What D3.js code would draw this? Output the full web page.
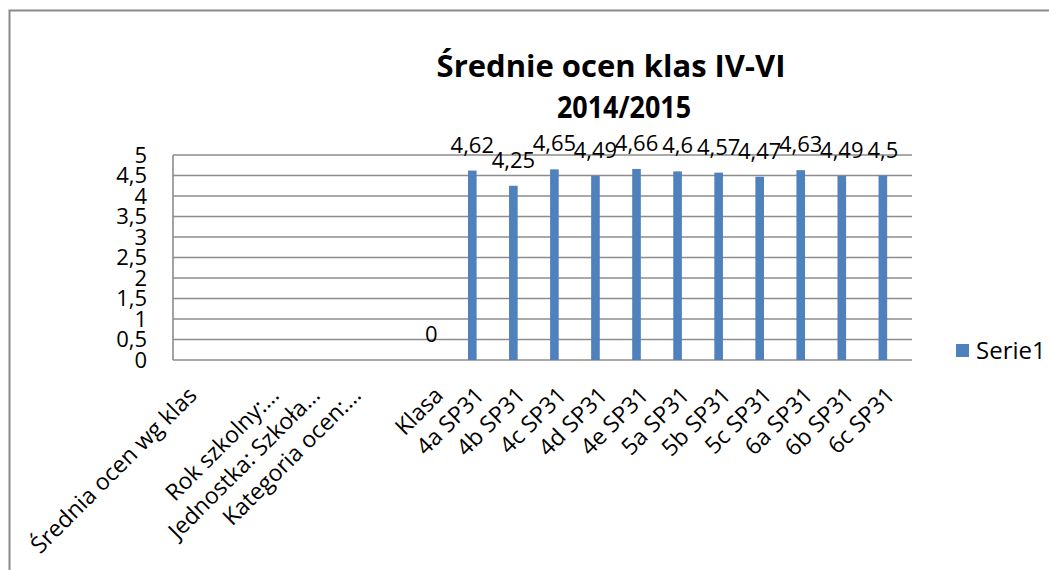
<!DOCTYPE html>
<html>
<head>
<meta charset="utf-8">
<script src="https://cdn.jsdelivr.net/npm/d3@7"></script>
<style>
  html, body { margin: 0; padding: 0; background: #fff; }
  svg { display: block; }
  text { font-family: "Open Sans", "Noto Sans", sans-serif; fill: #000; }
</style>
</head>
<body>
<svg id="chart" width="1049" height="570"></svg>
<script>
// ---- data ----
const titleLines = ["Średnie ocen klas IV-VI", "2014/2015"];
const categories = [
  "Średnia ocen wg klas", "", "Rok szkolny:…", "Jednostka: Szkoła…", "Kategoria ocen:…", "",
  "Klasa", "4a SP31", "4b SP31", "4c SP31", "4d SP31", "4e SP31",
  "5a SP31", "5b SP31", "5c SP31", "6a SP31", "6b SP31", "6c SP31"
];
const values = [
  null, null, null, null, null, null,
  0, 4.62, 4.25, 4.65, 4.49, 4.66,
  4.6, 4.57, 4.47, 4.63, 4.49, 4.5
];
const yTicks = [0, 0.5, 1, 1.5, 2, 2.5, 3, 3.5, 4, 4.5, 5];
const seriesName = "Serie1";

// ---- layout ----
const svg = d3.select("#chart");
const plot = { left: 173, right: 912, top: 155, bottom: 360 };
const barColor = "#4f81bd";
const gridColor = "#8c8c8c";
const fmt = v => String(v).replace(".", ",");

// outer frame (only top and left edges visible)
svg.append("path")
  .attr("d", "M9.5,570 V10.5 H1049")
  .attr("fill", "none")
  .attr("stroke", "#8a8a8a")
  .attr("stroke-width", 2);

const x = d3.scaleBand()
  .domain(d3.range(categories.length))
  .range([plot.left, plot.right])
  .paddingInner(0).paddingOuter(0);

const y = d3.scaleLinear().domain([0, 5]).range([plot.bottom, plot.top]);

// gridlines
svg.append("g").selectAll("line")
  .data(yTicks)
  .join("line")
  .attr("x1", plot.left).attr("x2", plot.right)
  .attr("y1", d => y(d)).attr("y2", d => y(d))
  .attr("stroke", gridColor).attr("stroke-width", 1.6);

// y axis line
svg.append("line")
  .attr("x1", plot.left).attr("x2", plot.left)
  .attr("y1", y(5)).attr("y2", y(0))
  .attr("stroke", gridColor).attr("stroke-width", 1.6);

// y tick labels
const yAxis = d3.axisLeft(y).tickValues(yTicks).tickFormat(fmt).tickSize(0).tickPadding(0);
const gy = svg.append("g")
  .attr("transform", `translate(${plot.left - 26},0)`)
  .call(yAxis);
gy.select(".domain").remove();
gy.selectAll("text")
  .attr("font-size", 22)
  .attr("font-family", "Open Sans")
  .attr("fill", "#000");

// bars (series is drawn in the first slot of its category band)
const step = x.step();
const barW = step * 0.21;
const barCenter = i => x(i) + step / 2 - step * 0.21;

const data = values.map((v, i) => ({ i, v })).filter(d => d.v !== null);

svg.append("g").selectAll("rect")
  .data(data)
  .join("rect")
  .attr("x", d => barCenter(d.i) - barW / 2)
  .attr("width", barW)
  .attr("y", d => y(d.v))
  .attr("height", d => y(0) - y(d.v))
  .attr("fill", barColor);

// data labels
svg.append("g").selectAll("text")
  .data(data)
  .join("text")
  .attr("x", d => barCenter(d.i))
  .attr("y", d => y(d.v) - 18)
  .attr("text-anchor", "middle")
  .attr("font-size", 22)
  .text(d => fmt(d.v));

// x category labels, rotated
svg.append("g").selectAll("text")
  .data(categories.map((c, i) => ({ c, i })))
  .join("text")
  .attr("transform", d => `translate(${x(d.i) + step / 2 - 1},${plot.bottom + 31}) rotate(-45)`)
  .attr("text-anchor", "end")
  .attr("dy", "0.35em")
  .attr("font-size", 23)
  .text(d => d.c);

// title
svg.append("text")
  .attr("x", 611).attr("y", 77)
  .attr("text-anchor", "middle")
  .attr("font-size", 31).attr("font-weight", "bold")
  .text(titleLines[0]);
svg.append("text")
  .attr("x", 624).attr("y", 118)
  .attr("text-anchor", "middle")
  .attr("font-size", 31).attr("font-weight", "bold")
  .attr("textLength", 134).attr("lengthAdjust", "spacingAndGlyphs")
  .text(titleLines[1]);

// legend
const lg = svg.append("g").attr("transform", "translate(956,344)");
lg.append("rect").attr("width", 13).attr("height", 13).attr("fill", barColor);
lg.append("text").attr("x", 20).attr("y", 6.5).attr("dy", "0.35em")
  .attr("font-size", 24).text(seriesName);
</script>
</body>
</html>
